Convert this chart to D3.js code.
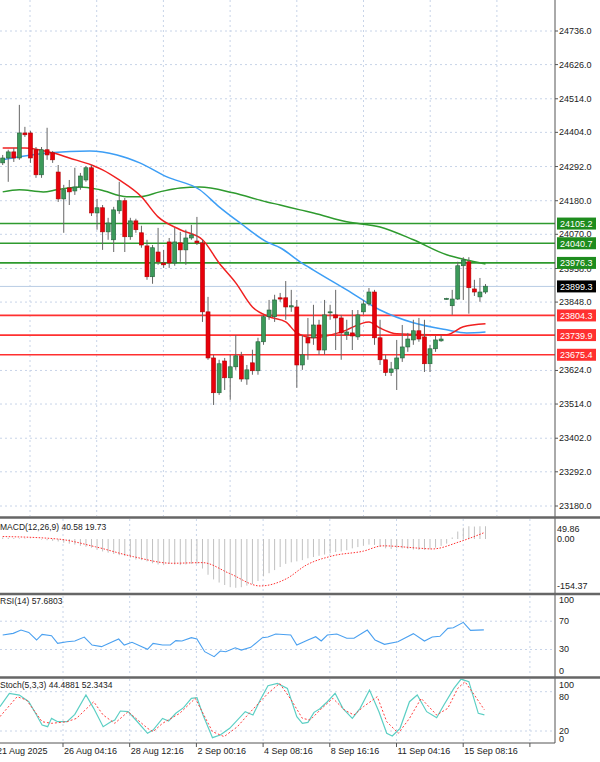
<!DOCTYPE html>
<html>
<head>
<meta charset="utf-8">
<script src="https://cdn.jsdelivr.net/npm/d3@7"></script>
<style>
  body { margin: 0; background: #fff; }
  svg { display: block; font-family: "Liberation Sans", Arial, sans-serif; }
</style>
</head>
<body>
<svg id="chart" width="600" height="762"></svg>
<script>
// candles (H1-ish)
const opens  = [24304,24320,24340,24320,24402,24402,24347,24265,24347,24337,24274,24186,24222,24212,24225,24248,24288,24140,24157,24078,24052,24147,24180,24062,24114,24075,24032,23931,24012,23976,24045,23976,24042,24019,24058,24048,24042,23816,23665,23551,23655,23600,23636,23672,23596,23649,23623,23718,23800,23800,23862,23862,23832,23832,23642,23731,23731,23773,23691,23813,23806,23796,23741,23747,23734,23816,23842,23881,23731,23659,23617,23629,23665,23701,23724,23754,23734,23646,23695,23721,23858,23836,23858,23967,23980,23891,23865,23881];
const closes = [24320,24340,24320,24402,24396,24320,24265,24347,24330,24314,24186,24216,24209,24225,24261,24288,24140,24157,24078,24107,24150,24180,24062,24114,24085,24035,23931,24026,23980,23970,23976,24045,24019,24058,24068,24042,23816,23665,23551,23646,23600,23636,23672,23596,23626,23623,23718,23800,23822,23855,23858,23832,23836,23642,23675,23714,23773,23691,23806,23816,23796,23747,23750,23737,23806,23842,23881,23731,23659,23617,23629,23665,23701,23727,23754,23727,23646,23695,23724,23727,23860,23858,23967,23986,23895,23881,23881,23900];
const highs  = [24330,24347,24353,24494,24422,24409,24356,24356,24419,24343,24297,24232,24248,24288,24271,24294,24297,24186,24166,24124,24160,24242,24189,24124,24121,24098,24052,24035,24091,24019,24058,24091,24078,24085,24101,24127,24052,23865,23675,23659,23665,23675,23740,23685,23642,23692,23731,23806,23855,23872,23878,23917,23888,23855,23740,23796,23839,23790,23855,23839,23888,23806,23790,23822,23822,23855,23894,23888,23790,23675,23652,23724,23773,23747,23790,23796,23790,23708,23737,23740,23862,23888,23980,23995,23995,23921,23927,23907];
const lows   = [24297,24242,24307,24314,24389,24304,24255,24255,24314,24304,24176,24075,24166,24199,24216,24242,24130,24085,24019,24052,24012,24137,24012,24052,24075,24026,23921,23908,23970,23960,23960,23967,23980,23970,24052,24035,23783,23659,23511,23544,23560,23528,23626,23587,23577,23610,23610,23708,23790,23783,23849,23790,23816,23567,23626,23659,23708,23675,23675,23790,23691,23659,23724,23691,23724,23806,23836,23708,23642,23606,23606,23560,23652,23685,23708,23718,23619,23619,23685,23718,23856,23806,23855,23855,23810,23868,23849,23875];

// moving averages: [candle index, price]
const maFast = [[0,24353],[4,24353],[9,24337],[12,24320],[16,24297],[18,24281],[21,24248],[25,24193],[28,24127],[32,24085],[36,24052],[39,23976],[42,23911],[45,23832],[48,23800],[51,23783],[53,23747],[56,23731],[61,23750],[66,23783],[68,23763],[71,23744],[77,23741],[80,23741],[83,23767],[87,23777]];
const maMid  = [[0,24314],[3,24324],[8.5,24337],[15.7,24343],[20.6,24330],[24.7,24304],[29.6,24258],[35.5,24216],[39,24160],[42.8,24107],[47.6,24045],[50,24026],[53.6,23980],[56,23953],[62,23888],[68,23822],[74,23780],[80,23757],[83.6,23747],[87,23750]];
const maSlow = [[0,24209],[3,24216],[7.3,24209],[9.8,24216],[14,24225],[17.5,24216],[22.4,24193],[24.7,24193],[28.3,24209],[32,24222],[35.5,24225],[41.5,24206],[47.6,24176],[50,24166],[53.6,24150],[56,24140],[62,24111],[68,24094],[74,24052],[80,24003],[83.6,23986],[87,23973]];

const greenLevels = [24105.2, 24040.7, 23976.3];
const redLevels = [23804.3, 23739.9, 23675.4];
const lastPrice = 23899.3;
const priceTicks = [24736,24626,24514,24404,24292,24180,24070,23958,23848,23624,23514,23402,23292,23180];

const macdHist = [5,4,3,2,2,1,0,-2,-4,-6,-8,-12,-15,-18,-22,-25,-28,-35,-40,-44,-48,-52,-55,-60,-66,-68,-72,-78,-82,-84,-80,-82,-84,-82,-80,-80,-95,-115,-130,-140,-148,-155,-157,-155,-150,-145,-135,-120,-110,-100,-90,-80,-75,-72,-68,-62,-58,-54,-50,-46,-42,-40,-36,-30,-26,-22,-18,-19,-25,-30,-32,-30,-30,-32,-34,-35,-35,-33,-28,-22,-15,5,24,36,41,40,41,41];
const macdSignal = [[0,8],[9.9,0],[16.7,-25],[23.6,-57],[30.5,-78],[36,-76],[40.9,-111],[46.4,-151],[51.2,-127],[54.7,-84],[59.5,-54],[65,-39],[68.5,-22],[75.4,-30],[77.4,-32],[82.3,-9],[86.7,20]];

const rsi = [[0,50.5],[1.9,52.8],[3.3,57.5],[4.7,54.2],[6.1,43.4],[7.1,51.4],[8.8,49.5],[9.9,38.7],[11.6,41],[13,42],[14.7,47.6],[16.1,36.3],[17.8,34],[20.9,44.8],[21.9,36.3],[23.3,40.1],[26.1,30.2],[27.1,38.7],[28.8,36.3],[30.2,36.3],[31.2,42.5],[32.3,42],[34,46.7],[35,44.8],[36.4,26.9],[38.1,19.8],[39.2,27.8],[40.2,26.9],[41.9,32.5],[43,29.2],[44.7,33],[46.8,46.7],[47.8,47.6],[49.2,51.9],[51.9,50.5],[53,36.3],[55,43.4],[56.4,48.1],[57.4,42],[58.5,50.5],[60.2,51.9],[62,45.8],[63.3,45.8],[65.7,57.5],[67.1,43.4],[68.8,37.3],[71.2,41],[74,52.4],[76,42],[77.4,47.6],[78.8,48.6],[80.2,59.9],[81.2,60.8],[83,68.4],[84.3,57.1],[86.7,57.7]];

const stochMain = [[-0.5,57.1],[1.2,77.5],[3,74.9],[4.7,64.7],[6.1,44.4],[7.1,29.2],[8.1,26.6],[8.8,39.3],[9.9,34.2],[11.6,34.2],[13,45.4],[15,74.9],[16.4,54.6],[18.1,26.6],[19.5,34.2],[20.2,36.8],[21.2,50.5],[22.6,49.5],[24,36.8],[26.1,16.5],[27.1,21.5],[28.8,39.3],[29.9,35.3],[31.2,47],[32.6,55.6],[34,69.8],[35,70.8],[36.1,44.4],[37.8,9.8],[39.2,13.9],[40.9,24.1],[43.7,49.5],[45.1,44.4],[46.4,67.3],[47.8,89.2],[49.5,92.7],[51.3,85.1],[53,41.9],[54,31.7],[55,33.2],[56.1,48.5],[57.1,53.6],[58.5,64.7],[59.9,77.5],[61.3,54.6],[63,39.3],[64.4,54.6],[66.1,82.5],[67.8,49.5],[69.2,16.5],[70.2,12.4],[71.6,24.1],[73.3,64.7],[74.7,74.9],[76.4,49.5],[78.2,40.3],[79.5,59.7],[81.3,85.1],[82.6,99.3],[84,95.3],[85.7,47],[86.8,44.5]];
const stochSignal = [[-0.5,41.9],[2.6,72.4],[4.3,67.3],[7.1,34.2],[8.8,31.7],[11.6,34.2],[13.3,39.3],[16.4,64.7],[18.1,44.4],[20.2,31.7],[22.6,49.5],[24,39.3],[26.1,24.1],[27.1,19],[28.8,31.7],[31.9,47],[34.7,69.8],[37.8,19],[39.9,11.4],[42.3,26.6],[44.4,47],[47.8,77.5],[49.9,92.7],[52,67.3],[54,39.3],[55.4,36.8],[57.5,54.6],[59.5,69.8],[61.6,52],[63.3,44.4],[65,57.1],[67.5,72.4],[69.2,34.2],[71.3,16.5],[73.3,39.3],[75.4,69.8],[78.2,44.4],[80.2,54.6],[82,85.1],[83.3,95.3],[85,74.9],[86.8,52.3]];

const timeLabels = ["21 Aug 2025","26 Aug 04:16","28 Aug 12:16","2 Sep 00:16","4 Sep 08:16","8 Sep 16:16","11 Sep 04:16","15 Sep 08:16"];

const svg = d3.select("#chart");
const plotR = 555;
const x = d3.scaleLinear().domain([0, 87]).range([2.7, 485.5]);
const y = d3.scaleLinear().domain([23180, 24736]).range([506, 31]);
const yMacd = d3.scaleLinear().domain([-154.37, 0]).range([587, 539]);
const yRsi = d3.scaleLinear().domain([0, 100]).range([670.7, 600]);
const ySto = d3.scaleLinear().domain([20, 80]).range([731, 691.7]);

const gridCol = "#c8d4e8";
const panels = [[0,516],[519,592],[596,676],[679,742]];
const dash = "2,3";

svg.append("defs").selectAll("clipPath").data(panels).join("clipPath")
  .attr("id", (d, i) => "clip" + i)
  .append("rect").attr("x", 0).attr("y", d => d[0]).attr("width", plotR).attr("height", d => d[1] - d[0]);

// vertical grid
const mainGrid = d3.range(8).map(k => 30 + 66.7 * k);
const indGrid = d3.range(8).map(k => 63 + 66.7 * k);
svg.append("g").selectAll("line").data(mainGrid).join("line")
  .attr("x1", d => d).attr("x2", d => d).attr("y1", 0).attr("y2", 516)
  .attr("stroke", gridCol).attr("stroke-dasharray", dash);
panels.slice(1).forEach(p => {
  svg.append("g").selectAll("line").data(indGrid).join("line")
    .attr("x1", d => d).attr("x2", d => d).attr("y1", p[0]).attr("y2", p[1])
    .attr("stroke", gridCol).attr("stroke-dasharray", dash);
});
// horizontal grid
svg.append("g").selectAll("line").data(priceTicks).join("line")
  .attr("x1", 0).attr("x2", plotR).attr("y1", d => y(d)).attr("y2", d => y(d))
  .attr("stroke", gridCol).attr("stroke-dasharray", dash);
[[yRsi,70],[yRsi,30],[ySto,80],[ySto,20]].forEach(([s, v]) => {
  svg.append("line").attr("x1", 0).attr("x2", plotR).attr("y1", s(v)).attr("y2", s(v))
    .attr("stroke", gridCol).attr("stroke-dasharray", dash);
});

// main panel
const main = svg.append("g").attr("clip-path", "url(#clip0)");
main.append("line").attr("x1", 0).attr("x2", plotR).attr("y1", y(lastPrice)).attr("y2", y(lastPrice))
  .attr("stroke", "#b8cce4");
greenLevels.forEach(v => main.append("line").attr("x1", 0).attr("x2", plotR)
  .attr("y1", y(v)).attr("y2", y(v)).attr("stroke", "#2e9a2e").attr("stroke-width", 1.6));
redLevels.forEach(v => main.append("line").attr("x1", 0).attr("x2", plotR)
  .attr("y1", y(v)).attr("y2", y(v)).attr("stroke", "#ff3030").attr("stroke-width", 1.6));

const line = d3.line().x(d => x(d[0])).y(d => y(d[1])).curve(d3.curveMonotoneX);
main.append("path").attr("d", line(maSlow)).attr("fill", "none").attr("stroke", "#2e9a2e").attr("stroke-width", 1.5);
main.append("path").attr("d", line(maMid)).attr("fill", "none").attr("stroke", "#3d9ef5").attr("stroke-width", 1.5);
main.append("path").attr("d", line(maFast)).attr("fill", "none").attr("stroke", "#f02020").attr("stroke-width", 1.5);

const candles = opens.map((o, i) => ({ i, o, c: closes[i], h: highs[i], l: lows[i] }));
const cg = main.append("g").selectAll("g").data(candles).join("g");
cg.append("line").attr("x1", d => x(d.i)).attr("x2", d => x(d.i))
  .attr("y1", d => y(d.h)).attr("y2", d => y(d.l)).attr("stroke", "#666");
cg.append("rect")
  .attr("x", d => x(d.i) - 2).attr("width", 4)
  .attr("y", d => y(Math.max(d.o, d.c)))
  .attr("height", d => Math.max(1, Math.abs(y(d.o) - y(d.c))))
  .attr("fill", d => d.c >= d.o ? "#3c9a5a" : "#e8000b")
  .attr("stroke", d => d.c >= d.o ? "#23603a" : "#b00000").attr("stroke-width", 0.6);

// right axis labels
svg.append("line").attr("x1", plotR).attr("x2", plotR).attr("y1", 0).attr("y2", 743).attr("stroke", "#555");
svg.append("g").selectAll("text").data(priceTicks).join("text")
  .attr("x", plotR + 4).attr("y", d => y(d) + 3).attr("font-size", 9).attr("fill", "#222")
  .text(d => d.toFixed(1));
svg.append("g").selectAll("line").data(priceTicks).join("line")
  .attr("x1", plotR).attr("x2", plotR + 3).attr("y1", d => y(d)).attr("y2", d => y(d)).attr("stroke", "#555");

function tag(v, bg) {
  const g = svg.append("g").attr("transform", `translate(${plotR + 2},${y(v)})`);
  g.append("rect").attr("x", 0).attr("y", -6).attr("width", 39).attr("height", 12).attr("fill", bg);
  g.append("text").attr("x", 3).attr("y", 3.5).attr("font-size", 9).attr("fill", "#fff").text(v.toFixed(1));
}
greenLevels.forEach(v => tag(v, "#1e8c1e"));
redLevels.forEach(v => tag(v, "#ff3030"));
tag(lastPrice, "#000");

// panel separators
[517.5, 594, 677.5].forEach(v => svg.append("line").attr("x1", 0).attr("x2", 600)
  .attr("y1", v).attr("y2", v).attr("stroke", "#666").attr("stroke-width", 2.5));
svg.append("line").attr("x1", 0).attr("x2", plotR).attr("y1", 743).attr("y2", 743).attr("stroke", "#555");

// MACD
const mg = svg.append("g").attr("clip-path", "url(#clip1)");
mg.selectAll("line").data(macdHist).join("line")
  .attr("x1", (d, i) => x(i)).attr("x2", (d, i) => x(i))
  .attr("y1", yMacd(0)).attr("y2", d => yMacd(d)).attr("stroke", "#c0c0c0").attr("stroke-width", 1);
mg.append("path").attr("d", d3.line().x(d => x(d[0])).y(d => yMacd(d[1])).curve(d3.curveMonotoneX)(macdSignal))
  .attr("fill", "none").attr("stroke", "#ff3030").attr("stroke-dasharray", "1.5,1.5");
svg.append("text").attr("x", 0).attr("y", 530).attr("font-size", 8.5).attr("fill", "#222").text("MACD(12,26,9) 40.58 19.73");
[["49.86", 532], ["0.00", 542], ["-154.37", 589]].forEach(([t, yy]) =>
  svg.append("text").attr("x", plotR + 2).attr("y", yy).attr("font-size", 9).attr("fill", "#222").text(t));

// RSI
const rg = svg.append("g").attr("clip-path", "url(#clip2)");
rg.append("path").attr("d", d3.line().x(d => x(d[0])).y(d => yRsi(d[1]))(rsi))
  .attr("fill", "none").attr("stroke", "#4aa0f0").attr("stroke-width", 1.1);
svg.append("text").attr("x", 0).attr("y", 604).attr("font-size", 8.5).attr("fill", "#222").text("RSI(14) 57.6803");
[["100", 100], ["70", 70], ["30", 30], ["0", 0]].forEach(([t, v]) =>
  svg.append("text").attr("x", plotR + 4).attr("y", Math.min(yRsi(v), 672) + 3).attr("font-size", 9).attr("fill", "#222").text(t));

// Stochastic
const sg = svg.append("g").attr("clip-path", "url(#clip3)");
sg.append("path").attr("d", d3.line().x(d => x(d[0])).y(d => ySto(d[1]))(stochMain))
  .attr("fill", "none").attr("stroke", "#5ccfc4").attr("stroke-width", 1.2);
sg.append("path").attr("d", d3.line().x(d => x(d[0])).y(d => ySto(d[1]))(stochSignal))
  .attr("fill", "none").attr("stroke", "#ff4040").attr("stroke-dasharray", "2,2");
svg.append("text").attr("x", 0).attr("y", 688).attr("font-size", 8.5).attr("fill", "#222").text("Stoch(5,3,3) 44.4881 52.3434");
[["100", 688], ["80", 700], ["20", 734], ["0", 742]].forEach(([t, yy]) =>
  svg.append("text").attr("x", plotR + 4).attr("y", yy).attr("font-size", 9).attr("fill", "#222").text(t));

// time axis
const tx = [-4].concat(indGrid.slice(0, 7));
svg.append("g").selectAll("text").data(timeLabels).join("text")
  .attr("x", (d, i) => tx[i] + 1).attr("y", 754).attr("font-size", 9).attr("fill", "#222").text(d => d);
svg.append("g").selectAll("line").data(indGrid).join("line")
  .attr("x1", d => d).attr("x2", d => d).attr("y1", 743).attr("y2", 747).attr("stroke", "#555");
</script>
</body>
</html>
